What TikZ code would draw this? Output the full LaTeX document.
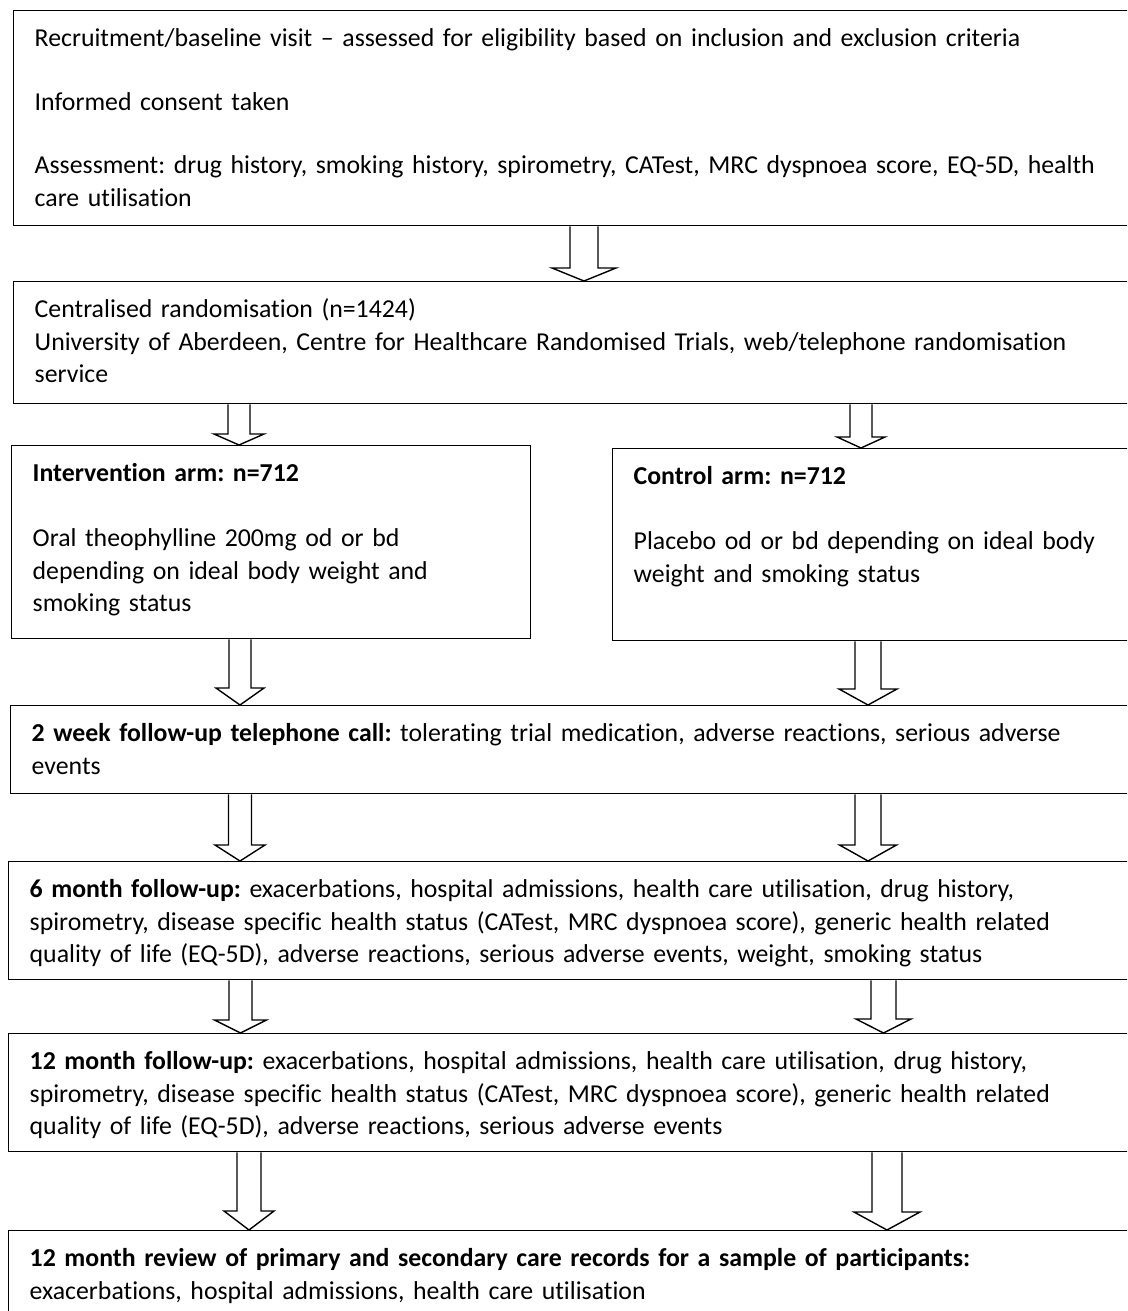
\documentclass[tikz,border=0pt]{standalone}
\usepackage{fontspec}
\setmainfont{Carlito}[Ligatures=NoCommon]
\usepackage{tikz}
\usetikzlibrary{calc}
\frenchspacing

\tikzset{
  box/.style={draw, line width=1.4pt, anchor=north west, align=left,
    inner xsep=21pt, inner ysep=0pt, text height=36pt,
    font=\fontsize{25.8}{32.5}\selectfont},
  blockarrow/.style={draw, line width=1.4pt, line join=miter, fill=white}
}
% #1 from, #2 to, #3 centre x, #4 shaft half width, #5 head half width, #6 head length
\newcommand{\hollowarrow}[6]{%
  \draw[blockarrow] let \p1=(#1.south), \p2=(#2.north) in
    (#3pt-#4pt,\y1) -- (#3pt-#4pt,\y2+#6pt) -- (#3pt-#5pt,\y2+#6pt) -- (#3pt,\y2)
    -- (#3pt+#5pt,\y2+#6pt) -- (#3pt+#4pt,\y2+#6pt) -- (#3pt+#4pt,\y1);}

\begin{document}
\begin{tikzpicture}[x=1pt, y=1pt]
	\useasboundingbox (0,0) rectangle (1127,-1311);
	\clip (0,0) rectangle (1127,-1311);
	\node (recruit) at (13,-10) [box, text width=1120pt, text depth=179pt]
		{Recruitment/baseline visit -- assessed for eligibility based on inclusion and exclusion criteria\\[31pt]
		Informed consent taken\\[31pt]
		Assessment: drug history, smoking history, spirometry, CATest, MRC dyspnoea score, EQ-5D, health\\
		care utilisation};
	\node (random) at (13,-281) [box, text width=1120pt, text depth=86pt]
		{Centralised randomisation (n=1424)\\
		University of Aberdeen, Centre for Healthcare Randomised Trials, web/telephone randomisation\\
		service};
	\node (intarm) at (11,-445) [box, text width=477pt, text depth=157pt]
		{\textbf{Intervention arm: n=712}\\[32.5pt]
		Oral theophylline 200mg od or bd\\
		depending on ideal body weight and\\
		smoking status};
	\node (ctrlarm) at (612,-448) [box, text width=560pt, text depth=156pt]
		{\textbf{Control arm: n=712}\\[32.5pt]
		Placebo od or bd depending on ideal body\\
		weight and smoking status};
	\node (week2) at (10,-705) [box, text width=1120pt, text depth=52pt]
		{\textbf{2 week follow-up telephone call:} tolerating trial medication, adverse reactions, serious adverse\\
		events};
	\node (month6) at (8,-861) [box, text width=1120pt, text depth=82pt]
		{\textbf{6 month follow-up:} exacerbations, hospital admissions, health care utilisation, drug history,\\
		spirometry, disease specific health status (CATest, MRC dyspnoea score), generic health related\\
		quality of life (EQ-5D), adverse reactions, serious adverse events, weight, smoking status};
	\node (month12) at (8,-1033) [box, text width=1120pt, text depth=82pt]
		{\textbf{12 month follow-up:} exacerbations, hospital admissions, health care utilisation, drug history,\\
		spirometry, disease specific health status (CATest, MRC dyspnoea score), generic health related\\
		quality of life (EQ-5D), adverse reactions, serious adverse events};
	\node (review) at (8,-1230) [box, text width=1120pt, text depth=100pt]
		{\textbf{12 month review of primary and secondary care records for a sample of participants:}\\
		exacerbations, hospital admissions, health care utilisation};
	\hollowarrow{recruit}{random}{584}{14}{32}{13}
	\hollowarrow{random}{intarm}{239}{11}{25}{11}
	\hollowarrow{random}{ctrlarm}{861}{11}{24}{11}
	\hollowarrow{intarm}{week2}{240}{11}{24}{17}
	\hollowarrow{ctrlarm}{week2}{868}{13}{29}{16}
	\hollowarrow{week2}{month6}{240}{11.5}{25}{16}
	\hollowarrow{week2}{month6}{868}{13}{28.5}{16}
	\hollowarrow{month6}{month12}{240.5}{11.5}{26}{13}
	\hollowarrow{month6}{month12}{883.5}{12.5}{27.5}{14}
	\hollowarrow{month12}{review}{249}{12}{25}{19}
	\hollowarrow{month12}{review}{887}{15}{33}{18}
\end{tikzpicture}
\end{document}
